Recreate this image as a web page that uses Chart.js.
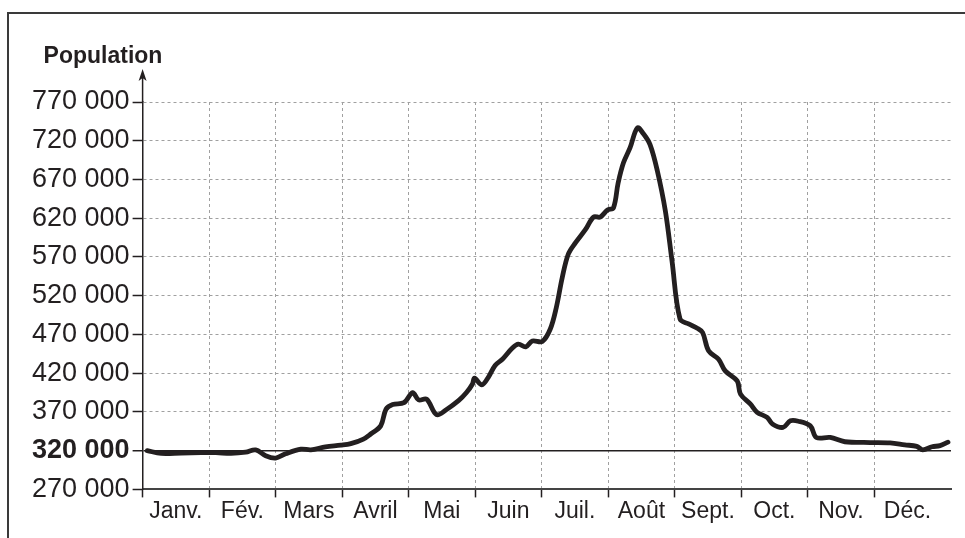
<!DOCTYPE html>
<html lang="fr">
<head>
<meta charset="utf-8">
<script src="https://cdn.jsdelivr.net/npm/chart.js@4.4.1/dist/chart.umd.min.js"></script>
<style>
  html, body { margin: 0; padding: 0; background: #fff; }
  #cadre {
    position: absolute; left: 7px; top: 12px; width: 965px; height: 540px;
    border-top: 2px solid #3a3a3a; border-left: 2px solid #3a3a3a;
  }
  #wrap { position: absolute; left: 0; top: 0; width: 965px; height: 538px; }
</style>
</head>
<body>
<div id="cadre"></div>
<div id="wrap"><canvas id="chartPopulation"></canvas></div>
<script>
  // position in months (0 = 1st of January) and population
  var mois = [0.07, 0.28, 0.58, 0.88, 1.10, 1.33, 1.55, 1.70, 1.85, 2.00, 2.15, 2.38, 2.53, 2.75, 2.98,
    3.13, 3.32, 3.43, 3.58, 3.66, 3.76, 3.93, 4.06, 4.15, 4.27, 4.42, 4.56, 4.75, 4.87, 4.96, 4.99,
    5.10, 5.20, 5.30, 5.41, 5.56, 5.65, 5.76, 5.86, 6.01, 6.13, 6.22, 6.31, 6.40, 6.51, 6.66, 6.78,
    6.88, 6.99, 7.08, 7.15, 7.23, 7.33, 7.44, 7.53, 7.63, 7.74, 7.86, 7.96, 8.08, 8.21, 8.34, 8.42,
    8.51, 8.66, 8.76, 8.94, 8.99, 9.14, 9.24, 9.39, 9.47, 9.63, 9.74, 9.86, 10.04, 10.13, 10.34,
    10.56, 10.94, 11.24, 11.46, 11.64, 11.73, 11.87, 11.99, 12.11];
  var population = [320000, 316500, 317000, 317500, 317500, 316500, 318000, 321000, 313500, 310500, 316000, 322000, 321000, 325000, 327000,
    329000, 335000, 341500, 352000, 373500, 379500, 382000, 395000, 385500, 386500, 366500, 372500, 384500, 395000, 406000, 413500,
    405000, 415000, 430000, 438000, 452500, 457500, 454000, 461500, 461000, 477000, 504500, 543500, 573500, 588500, 605500, 621500,
    621500, 630500, 633500, 665500, 691500, 711000, 736500, 729000, 715000, 681000, 629500, 565000, 490000, 483500, 478000, 472500,
    449000, 438000, 423000, 410000, 393000, 380000, 369500, 363000, 354500, 350000, 358500, 358000, 352000, 337000, 337000,
    331500, 330500, 330000, 327500, 325500, 321000, 325000, 326500, 331000];
  var moisLabels = ["Janv.", "Fév.", "Mars", "Avril", "Mai", "Juin", "Juil.", "Août", "Sept.", "Oct.", "Nov.", "Déc."];
  var Y_MIN = 270000, Y_MAX = 770000, Y_STEP = 50000, Y_REF = 320000;
  var X_MAX = 12.155;

  var NOIR = '#231f20';
  var GRIS = '#a0a0a0';
  var FONT = '"Liberation Sans", Arial, sans-serif';

  function milliers(v) {
    return String(v).replace(/\B(?=(\d{3})+(?!\d))/g, ' ');
  }

  var pointsPopulation = mois.map(function (m, i) { return {x: m, y: population[i]}; });

  // axe vertical prolongé + flèche, titre "Population"
  var decorPlugin = {
    id: 'decor',
    afterDraw: function (chart) {
      var ctx = chart.ctx, area = chart.chartArea;
      var x = area.left;
      ctx.save();
      ctx.strokeStyle = NOIR;
      ctx.fillStyle = NOIR;
      ctx.lineWidth = 1.5;
      ctx.beginPath();
      ctx.moveTo(x, area.top);
      ctx.lineTo(x, area.top - 24);
      ctx.stroke();
      ctx.beginPath();
      ctx.moveTo(x, area.top - 33);
      ctx.lineTo(x - 4, area.top - 21);
      ctx.lineTo(x, area.top - 24);
      ctx.lineTo(x + 4, area.top - 21);
      ctx.closePath();
      ctx.fill();
      ctx.font = 'bold 23px ' + FONT;
      ctx.textBaseline = 'alphabetic';
      ctx.textAlign = 'left';
      ctx.fillText('Population', x - 99, area.top - 39);
      ctx.restore();
    }
  };

  new Chart('chartPopulation', {
    type: 'line',
    data: {
      datasets: [
        {
          label: 'Population',
          data: pointsPopulation,
          borderColor: NOIR,
          borderWidth: 4.8,
          pointRadius: 0,
          tension: 0.35,
          borderJoinStyle: 'round',
          borderCapStyle: 'round',
          fill: false
        }
      ]
    },
    options: {
      responsive: true,
      maintainAspectRatio: false,
      animation: false,
      layout: {
        padding: {left: 29, right: 14, top: 102, bottom: 13}
      },
      plugins: {
        legend: {display: false},
        tooltip: {enabled: false},
        title: {display: false}
      },
      scales: {
        x: {
          type: 'linear',
          min: 0,
          max: X_MAX,
          afterBuildTicks: function (axis) {
            axis.ticks = axis.ticks.filter(function (t) {
              return t.value <= 12 && Math.abs(t.value * 2 - Math.round(t.value * 2)) < 1e-6;
            });
          },
          grid: {
            color: function (ctx) {
              return ctx.tick && ctx.tick.value % 1 === 0 ? GRIS : 'rgba(0,0,0,0)';
            },
            tickColor: function (ctx) {
              return ctx.tick && ctx.tick.value % 1 === 0 ? NOIR : 'rgba(0,0,0,0)';
            },
            lineWidth: 1,
            tickLength: 8,
            tickWidth: 1.5
          },
          border: {
            display: true,
            color: '#444',
            width: 2,
            dash: [3, 3]
          },
          ticks: {
            stepSize: 0.5,
            autoSkip: false,
            maxRotation: 0,
            minRotation: 0,
            padding: 0,
            color: NOIR,
            font: {family: FONT, size: 23},
            callback: function (v) {
              if (v % 1 === 0) return '';
              return moisLabels[Math.floor(v)] || '';
            }
          }
        },
        y: {
          min: Y_MIN,
          max: Y_MAX,
          grid: {
            color: function (ctx) {
              if (!ctx.tick) return GRIS;
              return ctx.tick.value === Y_REF ? NOIR : GRIS;
            },
            lineWidth: function (ctx) {
              return ctx.tick && ctx.tick.value === Y_REF ? 1.5 : 1;
            },
            tickColor: NOIR,
            tickLength: 10,
            tickWidth: 1.5
          },
          border: {
            display: true,
            color: NOIR,
            width: 1.5,
            dash: function (ctx) {
              return ctx.tick && ctx.tick.value === Y_REF ? [] : [3, 3];
            }
          },
          ticks: {
            stepSize: Y_STEP,
            padding: 3,
            color: NOIR,
            font: function (ctx) {
              var gras = ctx.tick && ctx.tick.value === Y_REF;
              return {family: FONT, size: 27, weight: gras ? 'bold' : 'normal'};
            },
            callback: function (v) { return milliers(v); }
          }
        }
      }
    },
    plugins: [decorPlugin]
  });
</script>
</body>
</html>
